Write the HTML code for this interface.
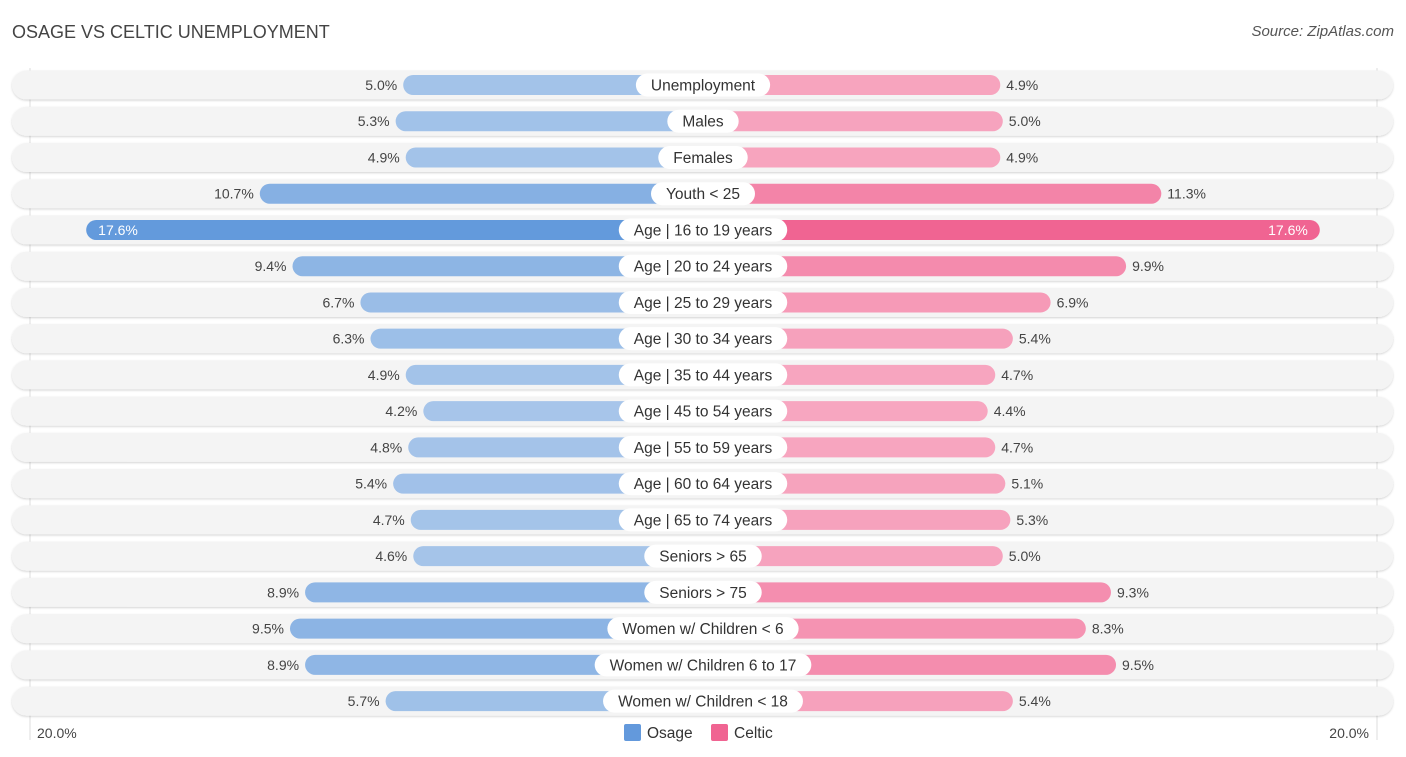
<!DOCTYPE html>
<html><head><meta charset="utf-8"><style>
body{margin:0;width:1406px;height:757px;background:#fff;font-family:"Liberation Sans",sans-serif;position:relative;overflow:hidden}
.t{position:absolute;white-space:nowrap}
</style></head><body>
<div class="t" style="left:12px;top:22px;font-size:18px;color:#444">OSAGE VS CELTIC UNEMPLOYMENT</div>
<div class="t" style="right:12px;top:23px;font-size:15px;color:#555;font-style:italic">Source: ZipAtlas.com</div>
<svg id="chart" width="1406" height="757" style="position:absolute;left:0;top:0"></svg>
<script>
const categories=["Unemployment","Males","Females","Youth < 25","Age | 16 to 19 years","Age | 20 to 24 years","Age | 25 to 29 years","Age | 30 to 34 years","Age | 35 to 44 years","Age | 45 to 54 years","Age | 55 to 59 years","Age | 60 to 64 years","Age | 65 to 74 years","Seniors > 65","Seniors > 75","Women w/ Children < 6","Women w/ Children 6 to 17","Women w/ Children < 18"];
const osage=[5.0,5.3,4.9,10.7,17.6,9.4,6.7,6.3,4.9,4.2,4.8,5.4,4.7,4.6,8.9,9.5,8.9,5.7];
const celtic=[4.9,5.0,4.9,11.3,17.6,9.9,6.9,5.4,4.7,4.4,4.7,5.1,5.3,5.0,9.3,8.3,9.5,5.4];
const axisLabels=["20.0%","20.0%"];
const NS="http://www.w3.org/2000/svg",svg=document.getElementById('chart');
const cx=703,y0=85,pitch=36.24;
const w=v=>174+25.16*v;
const yr=i=>y0+i*pitch;
function mk(t,a,p){const e=document.createElementNS(NS,t);for(const k in a)e.setAttribute(k,a[k]);(p||svg).appendChild(e);return e;}
function mix(c1,c2,t){return 'rgb('+c1.map((c,i)=>Math.round(c+(c2[i]-c)*t)).join(',')+')';}
const defs=mk('defs',{});
const f=mk('filter',{id:'sh',x:'-5%',y:'-30%',width:'110%',height:'160%'},defs);
mk('feDropShadow',{dx:0,dy:1,stdDeviation:1,'flood-color':'#000','flood-opacity':0.18},f);
mk('line',{x1:30,x2:30,y1:68,y2:740,stroke:'#ddd'});
mk('line',{x1:1377,x2:1377,y1:68,y2:740,stroke:'#ddd'});
categories.forEach((c,i)=>{
 const y=yr(i);
 const g=mk('g',{});
 
 
 mk('rect',{x:12,y:y-14.5,width:1381,height:29,rx:14.5,fill:'#f4f4f4',filter:'url(#sh)'},g);
 const ow=w(osage[i]),tw=w(celtic[i]);
 const to=Math.min(1,Math.max(0,(osage[i]-4)/13.6)),tc=Math.min(1,Math.max(0,(celtic[i]-4)/13.6));
 const b1=mk('rect',{x:cx-ow,y:y-10,width:ow,height:20,rx:10,fill:mix([168,198,234],[99,154,220],to)},g);
 
 
 const b2=mk('rect',{x:cx,y:y-10,width:tw,height:20,rx:10,fill:mix([247,168,193],[240,100,146],tc)},g);
 
 
 const pill=mk('rect',{x:cx-60,y:y-11.5,width:120,height:23,rx:11.5,fill:'#fff'},g);
 const lt=mk('text',{x:cx,y:y+5.5,'text-anchor':'middle','font-size':15.5,fill:'#333'},g);lt.textContent=c;
 
 
 const lw=lt.getComputedTextLength()+30;
 pill.setAttribute('x',cx-lw/2);pill.setAttribute('width',lw);
 const inO=osage[i]>15,inC=celtic[i]>15;
 const v1=mk('text',{x:inO?cx-ow+12:cx-ow-6,y:y+5,'text-anchor':inO?'start':'end','font-size':14,fill:inO?'#fff':'#444'},g);v1.textContent=osage[i].toFixed(1)+'%';
 
 
 const v2=mk('text',{x:inC?cx+tw-12:cx+tw+6,y:y+5,'text-anchor':inC?'end':'start','font-size':14,fill:inC?'#fff':'#444'},g);v2.textContent=celtic[i].toFixed(1)+'%';
 
 
});
const a1=mk('text',{x:37,y:738,'font-size':14,fill:'#444'});a1.textContent=axisLabels[0];


const a2=mk('text',{x:1369,y:738,'font-size':14,fill:'#444','text-anchor':'end'});a2.textContent=axisLabels[1];


const l1=mk('g',{});
mk('rect',{x:624,y:724,width:17,height:17,rx:2,fill:'#6399dc'},l1);
const lt1=mk('text',{x:647,y:738,'font-size':15.5,fill:'#333'},l1);lt1.textContent='Osage';
const l2=mk('g',{});
mk('rect',{x:711,y:724,width:17,height:17,rx:2,fill:'#f06492'},l2);
const lt2=mk('text',{x:734,y:738,'font-size':15.5,fill:'#333'},l2);lt2.textContent='Celtic';
</script>
</body></html>
